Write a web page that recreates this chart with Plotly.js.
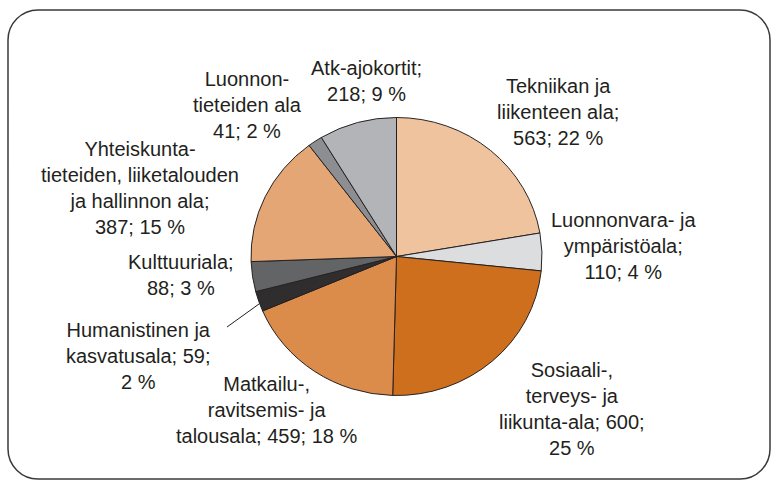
<!DOCTYPE html>
<html>
<head>
<meta charset="utf-8">
<script src="https://cdn.plot.ly/plotly-3.0.1.min.js"></script>
<style>html,body{margin:0;padding:0;background:#fff;}#chart{width:773px;height:483px;}</style>
</head>
<body>
<div id="chart"></div>
<script>
// Data
const categories = [
  "Tekniikan ja liikenteen ala",
  "Luonnonvara- ja ympäristöala",
  "Sosiaali-, terveys- ja liikunta-ala",
  "Matkailu-, ravitsemis- ja talousala",
  "Humanistinen ja kasvatusala",
  "Kulttuuriala",
  "Yhteiskuntatieteiden, liiketalouden ja hallinnon ala",
  "Luonnontieteiden ala",
  "Atk-ajokortit"
];
const values = [563, 110, 600, 459, 59, 88, 387, 41, 218];
const percents = [22, 4, 25, 18, 2, 3, 15, 2, 9];
const labelHeads = [
  "Tekniikan ja<br>liikenteen ala;<br>",
  "Luonnonvara- ja<br>ympäristöala;<br>",
  "Sosiaali-,<br>terveys- ja<br>liikunta-ala; ",
  "Matkailu-,<br>ravitsemis- ja<br>talousala; ",
  "Humanistinen ja<br>kasvatusala; ",
  "Kulttuuriala;<br>",
  "Yhteiskunta-<br>tieteiden, liiketalouden<br>ja hallinnon ala;<br>",
  "Luonnon-<br>tieteiden ala<br>",
  "Atk-ajokortit;<br>"
];
const labelSeps = ["; ", "; ", ";<br>", "; ", ";<br>", "; ", "; ", "; ", "; "];
const colors = ["#EEC39E", "#DCDDDF", "#CD6F1C", "#DB8B4A", "#2F2D2E", "#636466", "#E3A674", "#8D8E91", "#B2B4B7"];

// Layout helpers (pixel -> paper)
const W = 773, H = 483;
const px = x => x / W;
const py = y => 1 - y / H;
const labelPos = [[558,112],[623,246],[572,409],[266,410],[138,356],[181,275],[140,188],[247,105],[366,81]];

const cx = 396.5, cy = 256.5, rx = 145.5, ry = 139;

const annotations = categories.map((c, i) => ({
  text: labelHeads[i] + values[i] + labelSeps[i] + percents[i] + " %",
  x: px(labelPos[i][0]), y: py(labelPos[i][1]),
  xref: "paper", yref: "paper", xanchor: "center", yanchor: "middle",
  showarrow: false, align: "center",
  font: {family: "Liberation Sans, Arial, sans-serif", size: 20, color: "#231F20"}
}));

// rounded border path
const L = 8, T = 10, R = 770, B = 479, rad = 30, k = 0.552 * rad;
const P = (x, y) => px(x) + "," + py(y);
const borderPath =
  "M" + P(L + rad, T) + " L" + P(R - rad, T) +
  " C" + P(R - rad + k, T) + " " + P(R, T + rad - k) + " " + P(R, T + rad) +
  " L" + P(R, B - rad) +
  " C" + P(R, B - rad + k) + " " + P(R - rad + k, B) + " " + P(R - rad, B) +
  " L" + P(L + rad, B) +
  " C" + P(L + rad - k, B) + " " + P(L, B - rad + k) + " " + P(L, B - rad) +
  " L" + P(L, T + rad) +
  " C" + P(L, T + rad - k) + " " + P(L + rad - k, T) + " " + P(L + rad, T) + " Z";

const data = [{
  type: "pie",
  labels: categories,
  values: values,
  sort: false,
  direction: "clockwise",
  rotation: 0,
  textinfo: "none",
  hoverinfo: "label+value",
  marker: {colors: colors, line: {color: "#231F20", width: 1}},
  domain: {x: [px(cx - rx), px(cx + rx)], y: [py(cy + rx), py(cy - rx)]},
  showlegend: false
}];

const layout = {
  width: W, height: H,
  margin: {l: 0, r: 0, t: 0, b: 0},
  paper_bgcolor: "#ffffff",
  showlegend: false,
  annotations: annotations,
  shapes: [
    {type: "path", xref: "paper", yref: "paper", path: borderPath,
     line: {color: "#3A3A3A", width: 1.5}, fillcolor: "rgba(0,0,0,0)"},
    {type: "line", xref: "paper", yref: "paper",
     x0: px(227), y0: py(327), x1: px(259), y1: py(304),
     line: {color: "#231F20", width: 1}}
  ]
};

Plotly.newPlot("chart", data, layout, {displayModeBar: false, staticPlot: true}).then(gd => {
  // the reference pie is slightly elliptical: squash vertically around its centre
  const s = ry / rx;
  const pl = gd.querySelector(".pielayer");
  if (pl) pl.setAttribute("transform", "translate(0," + (cy * (1 - s)) + ") scale(1," + s + ")");
});
</script>
</body>
</html>
